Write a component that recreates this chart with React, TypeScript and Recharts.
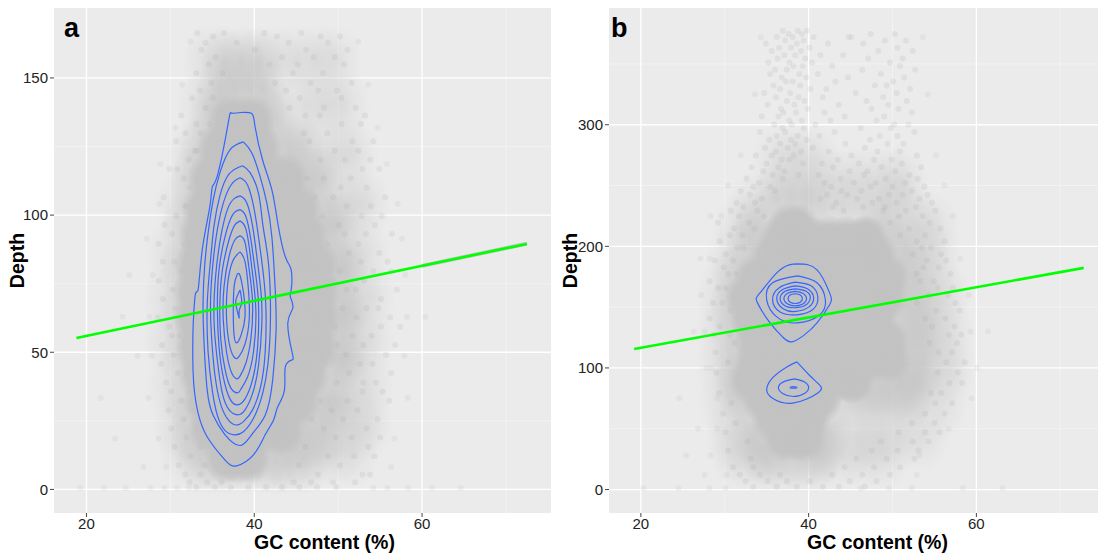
import { CartesianGrid, Label, ScatterChart, Scatter, XAxis, YAxis } from 'recharts'

type Pt = [number, number]
type Row = [number, number[]]

const gcTicks = [20, 40, 60]
const gcMinor = [30, 50, 70]
const depthTicksA = [0, 50, 100, 150]
const depthMinorA = [25, 75, 125]
const depthTicksB = [0, 100, 200, 300]
const depthMinorB = [50, 150, 250, 350]

const trendA: Pt[] = [[18.8, 55.2], [72.5, 89.5]]
const ribbonA: Pt[] = [[60, 81.5], [72.5, 89.6]]
const trendB: Pt[] = [[19.2, 115.6], [72.8, 182.3]]

// rows are [depth, gc values]
const coreRowsA: Row[] = [
  [134, [37, 38.5, 40]],
  [124, [35.6, 37.3, 39, 40.8]],
  [113, [34.5, 36.4, 38.4, 40.4, 42.4, 44]],
  [102, [33.8, 35.8, 37.8, 39.8, 41.8, 43.8, 45.6]],
  [92, [33.4, 35.4, 37.4, 39.4, 41.4, 43.4, 45, 46.4]],
  [82, [33, 35, 37, 39, 41, 43, 45, 46.2, 47.6]],
  [72, [32.8, 34.8, 36.8, 38.8, 40.8, 42.8, 44.8, 46.6, 47.8]],
  [62, [32.8, 34.8, 36.8, 38.8, 40.8, 42.8, 44.8, 46.5, 47.8]],
  [52, [33, 35, 37, 39, 41, 43, 45, 46.2, 47.6]],
  [42, [33.4, 35.4, 37.4, 39.4, 41.4, 43.4, 45.6, 46.6]],
  [32, [34, 36, 38, 40, 42, 44, 45.4]],
  [22, [34.6, 36.6, 38.6, 40.6, 42.6, 43.6]],
  [12, [36.5, 38, 39.5]],
]
const midRowsA: Row[] = [
  [156, [36.5, 38.5, 40.5]],
  [146, [36, 37.6, 39.2, 41]],
  [136, [35, 36.4, 41.2, 42.6]],
  [124, [33.8, 42.6, 44.2, 45.6]],
  [112, [32.6, 45.4, 46.8, 48]],
  [96, [31.8, 47.6, 48.8, 49.8]],
  [80, [31.4, 49, 50, 50.8]],
  [64, [31.4, 49.4, 50.4, 51]],
  [48, [31.6, 49.2, 50.2, 51]],
  [32, [32, 47.4, 48.8, 50]],
  [20, [32.6, 44.8, 46.4, 48.2]],
  [11, [33.6, 35.4, 37, 39, 41, 42.6, 44, 46]],
]
const hazeRowsA: Row[] = [
  [156, [34.6, 42.5, 45, 47.5, 49.6]],
  [140, [34, 46, 48.5, 50.6]],
  [122, [32.8, 47.5, 50, 51.6]],
  [104, [31.4, 49.5, 51.5, 53]],
  [86, [30.4, 51, 53]],
  [70, [30, 52, 53.6]],
  [54, [30, 52, 53.6]],
  [38, [30.4, 51.5, 53.4]],
  [24, [31, 50, 52, 53.4]],
  [14, [31.8, 47.6, 49.6, 51.6]],
]
const speckRowsA: Row[] = [
  [166.4, [33.2, 36.4, 41.2, 45.6]],
  [165.1, [35.1, 42.7, 47.9, 50.2]],
  [162.8, [34.2, 37.9, 44.1, 48.8]],
  [160.3, [33.7, 40.1, 46.2, 51.1]],
  [157.6, [35.4, 43.3, 47.1, 49.6]],
  [154.9, [34.6, 41.8, 45.2, 50.7]],
  [151.7, [33.1, 36.2, 44.6, 48.2]],
  [148.2, [34.9, 42.5, 46.7, 51.6]],
  [145.4, [33.5, 43.8, 47.6, 49.9]],
  [142.7, [32.6, 35.1, 45.4, 50.4]],
  [139.1, [34.2, 44.2, 48.3, 52.1]],
  [136.3, [31.3, 46.1, 53.2, 47.8]],
  [133.2, [33.1, 34.7, 50.4, 52.7]],
  [129.8, [31.8, 33.6, 48.7, 45.9]],
  [126.9, [30.7, 46.6, 51.7, 54.2]],
  [123.5, [32.9, 33.2, 49.6, 52.4]],
  [120.2, [32.2, 47.9, 50.8, 53.8]],
  [116.8, [30.8, 29.9, 54.9, 52.9]],
  [113.4, [31.6, 48.3, 51.5, 46.3]],
  [110.1, [33.4, 32.3, 50.3, 53.4]],
  [106.5, [29.2, 49.4, 55.6, 47.2]],
  [103.2, [31.9, 31.8, 51, 53.9]],
  [99.7, [30.7, 52.8, 48.1, 55.2]],
  [96.4, [32.9, 29.3, 54.4, 50.1]],
  [93.1, [30.2, 50.8, 53.3, 56.4]],
  [89.6, [31.6, 28.6, 52.4, 48.7]],
  [86.2, [32.1, 51.3, 54.9, 47.6]],
  [83, [29.1, 30.5, 55.9, 52.7]],
  [79.5, [31.4, 50.2, 54.2, 56.3]],
  [76.1, [28.6, 32, 53.1, 49.4]],
  [72.8, [30.3, 52.1, 57, 51]],
  [69.4, [31.8, 29.1, 48.9, 55.1]],
  [66, [30.6, 53.4, 54.8, 50.5]],
  [62.7, [28.5, 31.5, 56.2, 52.2]],
  [59.3, [29.9, 49.6, 55.1, 57.4]],
  [56, [31.1, 30.2, 54, 51.7]],
  [52.6, [29, 53, 56.8, 49.9]],
  [49.1, [32, 30.4, 50.9, 55.7]],
  [45.8, [28.9, 52.6, 54.1, 48.4]],
  [42.4, [30.9, 31.9, 56.3, 51.3]],
  [39, [29.5, 49.8, 54.5, 53]],
  [35.7, [32.2, 30.1, 52.9, 55.3]],
  [32.3, [31.3, 47.9, 51.1, 56.1]],
  [28.9, [29.8, 32.6, 52.3, 49.2]],
  [25.6, [31.6, 50.6, 54.7, 46.8]],
  [22.2, [30.1, 33.2, 48.3, 53.4]],
  [18.9, [31.9, 49.7, 55, 51.6]],
  [15.5, [30.5, 33.6, 46.1, 53.6]],
  [12.1, [32.4, 48.8, 51.9, 54.3]],
  [8.8, [31, 34.1, 45.3, 50.2]],
  [5.4, [31.8, 33.6, 47.6, 52.9, 53.8]],
  [2.6, [32.3, 34.4, 36.1, 44.7, 46.8, 49.4, 52]],
  [0.8, [33.1, 35.3, 37.2, 39.3, 41.4, 43.3, 45.4, 47.5, 49.8]],
]
const sparseRowsA: Row[] = [
  [163.2, [32.4, 52.4]],
  [147.5, [31.4, 53.6]],
  [131.8, [30.6, 54.7]],
  [118.6, [28.8, 55.8]],
  [104.1, [28.7, 57.1]],
  [91.4, [27.2, 57.6]],
  [78.2, [25.1, 27.9, 58]],
  [62.9, [24.3, 27.5, 58.2, 60.4]],
  [48.7, [26.1, 27.8, 57.9]],
  [33.3, [21.7, 27.4, 58.3]],
  [18.6, [23.4, 28.6, 56.7]],
  [8.2, [26.8, 29.5, 56.3]],
  [0.5, [19.3, 22.1, 24.7, 27.6, 29.3, 30.8, 32.2, 54.2, 55.9, 58.4, 61.2, 64.6]],
]

const coreRowsB: Row[] = [
  [216, [37.5, 38.8]],
  [206, [36.5, 38.5, 40.5, 42.5, 44.5, 46.5, 47]],
  [192, [35.4, 37.4, 39.4, 41.4, 43.4, 45.4, 47.4, 48.2]],
  [175, [33.6, 35.6, 37.6, 39.6, 41.6, 43.6, 45.6, 47.6, 49.6]],
  [158, [32.4, 34.4, 36.4, 38.4, 40.4, 42.4, 44.4, 46.4, 48.4, 49.4]],
  [140, [33, 35, 37, 39, 41, 43, 45, 47, 48.2]],
  [122, [33.6, 35.6, 37.6, 39.6, 41.6, 43.6, 45.6, 47.6, 49.6]],
  [106, [33.6, 35.6, 37.6, 39.6, 41.6, 43.6, 45.6, 47.6, 49.8]],
  [90, [33, 35, 37, 39, 41, 43, 45, 45.4]],
  [74, [34.4, 36.4, 38.4, 40.4, 41.6]],
  [58, [35.6, 37.6, 39.6, 40.2]],
  [42, [37, 38.5, 39.8]],
]
const midRowsB: Row[] = [
  [240, [36, 38, 40]],
  [215, [34, 48.6]],
  [200, [33, 49.8, 51.5]],
  [175, [31.4, 51, 52.6]],
  [150, [31, 50, 52, 53.4]],
  [125, [31.4, 50.8, 52.6, 53.6]],
  [100, [31.4, 51.8, 53.5]],
  [86, [31.6, 47, 49, 51, 53]],
  [76, [32.2, 44.5, 47, 49.5, 52]],
  [48, [33.4, 42.4]],
  [34, [34.4, 41.8]],
  [26, [35, 37, 39, 41]],
]
const hazeRowsB: Row[] = [
  [270, [36.5, 38.5, 40.5]],
  [252, [42, 44.5, 47, 49.5, 51]],
  [232, [33.6, 41.5, 44, 46.5, 49.5, 51.5]],
  [215, [32, 53, 54.6]],
  [190, [31, 53.5, 55]],
  [160, [29.8, 54.6, 56]],
  [130, [29.8, 55, 56.4]],
  [100, [29.8, 55.6, 56.8]],
  [70, [30.2, 55.6]],
  [45, [31, 46, 48.5, 51, 53.5]],
  [30, [31.5, 32.8, 44, 46.5, 49]],
]
const speckRowsB: Row[] = [
  [377.2, [36.9, 38.7, 39.8]],
  [374.6, [37.6, 39.2, 47.4, 50.3]],
  [372.1, [36.2, 38.1, 40.6, 44.8]],
  [369.3, [37.2, 39.4, 49.1, 51.6]],
  [366.8, [34.9, 38.6, 42.3, 46.5]],
  [363.4, [36.5, 37.9, 40.1, 50.6]],
  [360.7, [35.6, 39.1, 48.3, 52.4]],
  [357.2, [37.1, 38.4, 41.4, 44.1]],
  [354.5, [36.3, 39.6, 47.1, 51.2]],
  [351.1, [35.2, 37.7, 40.4, 49.7]],
  [348.3, [38.2, 39.3, 42.8, 50.9]],
  [345.2, [36, 37.4, 46.4, 52.7]],
  [341.7, [35.4, 38.9, 41.1, 48.6]],
  [338.9, [36.8, 39.7, 44.7, 51.4]],
  [335.6, [37.3, 38.1, 43.2, 50.1]],
  [332.2, [35.8, 39, 47.9, 49.3]],
  [329.4, [36.6, 40.2, 42.1, 52.1]],
  [326.1, [34.7, 37.8, 45.6, 50.5]],
  [322.7, [36.1, 38.8, 41.7, 48.9]],
  [319.6, [37.4, 39.5, 46.9, 51.7]],
  [316.4, [35.1, 38.3, 43.6, 49.5]],
  [313.2, [36.7, 39.9, 47.5, 50.7]],
  [310.1, [37, 38.5, 41.9, 52.3]],
  [306.8, [34.4, 36.4, 44.3, 49]],
  [303.5, [37.7, 39.2, 42.6, 48.1]],
  [300.2, [35.9, 38, 40.8, 50.2, 51.9]],
  [297.3, [36.9, 39.4, 46.2, 49.8]],
  [294, [34.2, 37.2, 43.1, 52.6]],
  [290.8, [36.2, 38.7, 41.3, 48.5, 50.6]],
  [287.6, [35.3, 37.9, 39.8, 47.3]],
  [284.3, [36.6, 38.4, 44.4, 49.4, 51.3]],
  [281.1, [34.8, 37.5, 40.5, 46.7]],
  [278, [36.1, 39.1, 42.4, 48.2, 50.9]],
  [274.7, [33.7, 35.6, 38.2, 45.1, 52.9]],
  [271.3, [36.8, 37.7, 43.5, 47.8, 49.9]],
  [268.2, [35, 39.3, 41.6, 46, 51.1]],
  [265.1, [33.2, 36.4, 42.9, 48.7, 53.4]],
  [261.8, [34.6, 37.1, 44.9, 47, 50.3]],
  [258.6, [35.7, 38.8, 41.2, 46.6, 52]],
  [255.5, [32.6, 36.9, 43.8, 49.2, 53]],
  [252.1, [34.1, 41.9, 45.4, 48, 51.5]],
  [248.9, [33.4, 35.4, 42.7, 47.4, 50, 53.8]],
  [245.6, [31.9, 36, 43.9, 46.3, 52.3]],
  [242.4, [33, 42.2, 44.6, 49.6, 51.2, 54.2]],
  [239.1, [34.4, 41.4, 45.8, 48.4, 53.2]],
  [235.8, [31.4, 33.6, 43.3, 47.6, 50.5, 54.7]],
  [232.4, [32.2, 42.9, 46.5, 49.1, 52.8]],
  [229.2, [30.7, 33.9, 44.2, 48.9, 51.6, 55.1]],
  [224.7, [31.7, 34.7, 50.8, 53.6]],
  [219.3, [29.2, 32.9, 49.7, 54.4]],
  [214.6, [31.1, 33.5, 52, 55.7]],
  [209.1, [30.6, 32.1, 50.9, 53.9]],
  [204.2, [29.4, 52.9, 56.2]],
  [198.8, [32.2, 31.5, 53.5, 54.6]],
  [193.5, [30.1, 52.4, 55.8]],
  [188.3, [28.8, 31, 54.1, 56.4]],
  [182.6, [29.9, 53.7, 55.5]],
  [177.4, [31.4, 30.4, 56.9, 52.9]],
  [171.2, [28.2, 54.9, 53.3]],
  [165.7, [30.1, 29.2, 55.4, 57.2]],
  [159.8, [31.1, 54.3, 56.6]],
  [153.4, [28.6, 29.7, 52.9, 57.5]],
  [147.2, [30.7, 55.2, 58]],
  [140.6, [28.2, 31.5, 56.3, 53.9]],
  [134.1, [29.4, 54.7, 57.4]],
  [127.3, [30.6, 28.7, 56.7, 58.2]],
  [120.5, [31.2, 54.4, 57.7]],
  [112.9, [28.9, 57.1, 55.5]],
  [104.6, [30.4, 56.4, 58.6]],
  [96.2, [29, 55.4, 57.8]],
  [87.7, [31.6, 56.8, 58.3]],
  [79.3, [29.3, 55.8, 54.6]],
  [70.9, [30.8, 55.1, 57.1]],
  [62.4, [29.8, 53.9, 56.2]],
  [54.8, [31.3, 52.3, 55]],
  [47.1, [30.1, 50.7, 53.9, 55.6]],
  [39.6, [32.7, 48.6, 52.4, 54.3]],
  [32.2, [30.4, 47.5, 50.6, 53.1]],
  [25.3, [33.1, 45.7, 49.3, 52.6]],
  [18.4, [31, 33.4, 44.3, 47.8, 50.9]],
  [12.2, [31.8, 34.2, 36.6, 42.8, 46.4, 49.7]],
  [6.8, [32.5, 35.1, 37.4, 40.2, 44.9, 48.1]],
  [2.3, [33.4, 36.2, 38.6, 41.7, 43.6, 46.7]],
]
const sparseRowsB: Row[] = [
  [372, [34.3, 45.1, 53.6]],
  [325, [33.6, 54.2]],
  [275, [31.9, 55.2]],
  [250, [30.4, 56.2]],
  [225, [28.3, 29.6, 57.2]],
  [190, [27.1, 28.2, 58.1]],
  [160, [27.2, 59.1]],
  [130, [26.3, 27.6, 59.3, 61.4]],
  [100, [27.8, 28.4, 60.1]],
  [75, [24.6, 29.1, 59.4]],
  [50, [26.8, 29.1, 56.7]],
  [28, [25.4, 28.3, 53.2]],
  [12, [27.6, 30.2, 52.9]],
  [1, [20.3, 24.5, 28.2, 30.1, 46.2, 49.6, 52.3, 58.4, 63.1]],
]

const contoursA: Pt[][] = [
  [[38.4, 137.4], [39.7, 137], [40.1, 132.2], [41, 120], [42.1, 109.2], [42.8, 97.2], [43.7, 84.8], [44.4, 80], [44.4, 72.7], [44.3, 70.2], [44.6, 66.2], [44, 60.7], [44.5, 50.1], [44.5, 47.2], [43.7, 44.7], [43.6, 36.3], [42.8, 30.1], [42.3, 25.3], [41.3, 19.9], [39.9, 12.6], [37.9, 8.6], [36.5, 10.8], [34.4, 19.1], [33.3, 27.9], [32.7, 43.6], [32.9, 69.1], [33.3, 72.7], [33.8, 87.3], [34.7, 103], [35, 110.3], [35.7, 115.4], [36.9, 133.6], [37.3, 137.2]],
  [[38.7, 126.7], [39.7, 122.7], [40.7, 114], [41.5, 104.4], [42.1, 92], [42.5, 72.7], [42.6, 58], [42.2, 40], [41.3, 27], [39.7, 20], [38.3, 16], [36.5, 20], [35.1, 27], [34.4, 36], [34, 54.5], [33.9, 69], [34.1, 82], [34.5, 93.5], [35.1, 105.5], [35.9, 115.4], [37.1, 123.8]],
  [[38.6, 118], [39.5, 115.5], [40.5, 108], [41, 97], [41.6, 85], [41.9, 72], [41.9, 58], [41.6, 45], [41, 35], [40, 26.5], [38.7, 21], [37.6, 19.9], [36.5, 21.5], [35.6, 27], [35, 36], [34.5, 50], [34.4, 68], [34.8, 84], [35.2, 96], [35.9, 107], [37, 115]],
  [[38.3, 113.6], [39.2, 111], [40, 102], [40.6, 90], [41.1, 78], [41.4, 65], [41.3, 50], [40.8, 38], [39.8, 29], [38.8, 25], [38, 23.5], [37, 25], [36, 31], [35.3, 42], [34.9, 56], [34.8, 70], [35.2, 86], [35.8, 98], [36.6, 107], [37.5, 112]],
  [[38.3, 107], [39.1, 104.5], [39.8, 96], [40.3, 85], [40.8, 72], [40.9, 60], [40.5, 45], [39.8, 35], [38.9, 29], [38, 27.2], [37, 29], [36.2, 35], [35.6, 47], [35.2, 62], [35.4, 78], [36, 92], [36.8, 102], [37.6, 106]],
  [[38.3, 102], [39, 99.5], [39.6, 91], [40.1, 80], [40.5, 68], [40.4, 52], [39.8, 40], [38.9, 33], [38, 30.8], [37.1, 33], [36.3, 41], [35.8, 52], [35.6, 66], [35.8, 80], [36.5, 92], [37.4, 100]],
  [[38.3, 97.9], [39, 95], [39.5, 86], [39.9, 76], [40.2, 64], [39.9, 50], [39.2, 41], [38.4, 36.5], [38, 35.2], [37.2, 37], [36.5, 44], [36, 55], [35.9, 68], [36.2, 80], [36.9, 90], [37.6, 96]],
  [[38.3, 92.4], [38.9, 90], [39.4, 80], [39.8, 68], [39.6, 55], [39, 46], [38.3, 41.3], [37.9, 40.3], [37.3, 42.5], [36.7, 50], [36.3, 62], [36.4, 74], [37, 85], [37.7, 91]],
  [[38.3, 86.6], [38.9, 83], [39.3, 73], [39.4, 62], [38.9, 53], [38.2, 48.5], [37.7, 47.9], [37.1, 52], [36.7, 62], [36.8, 74], [37.4, 83]],
  [[38, 78.6], [38.3, 78], [38.7, 72], [38.9, 63], [38.4, 56], [37.9, 53.4], [37.6, 56], [37.5, 64], [37.6, 74]],
  [[38.3, 72.7], [38.5, 68], [38.2, 65], [38.2, 62.5], [37.9, 66], [37.8, 69]],
]

const contoursB: Pt[][] = [
  [[38.7, 185.6], [41, 180.7], [42.5, 161.7], [42.5, 151.9], [41, 137], [39.5, 127.2], [38, 121.4], [36.9, 125.5], [35.4, 137], [33.9, 153.5], [34.2, 161.7], [36.2, 178.2], [37.7, 184.8]],
  [[38.7, 175.7], [41, 170], [42, 156], [41.3, 143.6], [38.6, 137], [36.2, 142], [35, 156], [35.7, 170]],
  [[38.4, 170.5], [40.3, 167.5], [41.1, 158], [40.5, 148], [38.6, 143.7], [36.6, 146], [35.7, 156], [36.5, 166]],
  [[38.4, 167.5], [39.9, 165], [40.6, 157.5], [40, 150], [38.5, 146.5], [37, 148.5], [36.2, 157], [36.9, 164.5]],
  [[38.4, 165], [39.7, 163], [40.2, 157.5], [39.6, 151.5], [38.4, 149.5], [37.2, 151], [36.6, 157], [37.2, 163]],
  [[38.4, 163], [39.3, 161.5], [39.75, 157], [39.3, 152.5], [38.4, 151], [37.5, 152.5], [37.05, 157], [37.5, 161.5]],
  [[38.4, 161], [39, 160], [39.25, 157], [39, 154], [38.4, 153], [37.8, 154], [37.55, 157], [37.8, 160]],
  [[38.6, 105], [40.1, 94], [41.3, 86], [41.1, 79.4], [38.1, 71], [35.7, 75], [35, 82], [35.7, 91.8], [37.4, 100.8]],
  [[38.3, 91], [39.5, 88.5], [40, 84], [39.5, 79], [38.2, 76.5], [36.9, 79], [36.4, 84], [37, 88.5]],
  [[38.2, 84.6], [38.6, 84], [38.2, 83.3], [37.8, 84]],
]

const flatten = (rows: Row[]) =>
  rows.flatMap(([depth, gcs]) => gcs.map((gc) => ({ gc, depth })))
const toPoints = (pts: Pt[]) => pts.map(([gc, depth]) => ({ gc, depth }))
const closed = (pts: Pt[]) => toPoints([...pts, pts[0]])

const FONT = '"Liberation Sans", Arial, sans-serif'
const TITLE = { fontSize: 19.5, fontWeight: 700, fontFamily: FONT, fill: '#000' }

interface PanelProps {
  id: string
  left: number
  width: number
  yWidth: number
  letter: string
  letterX: number
  gcDomain: [number, number]
  depthDomain: [number, number]
  depthTicks: number[]
  depthMinor: number[]
  core: Row[]
  coreRy: number
  mid: Row[]
  haze: Row[]
  speck: Row[]
  sparse: Row[]
  contours: Pt[][]
  trend: Pt[]
  ribbon?: Pt[]
  titleDx: number
  depthOffset: number
}

function Panel(p: PanelProps) {
  const tick = { fill: '#222', fontSize: 15, fontFamily: FONT }
  const blob = (rx: number, ry: number, fill: string, opacity = 1) => (s: any) => (
    <ellipse cx={s.cx} cy={s.cy} rx={rx} ry={ry} fill={fill} opacity={opacity} />
  )
  return (
    <div style={{ position: 'absolute', left: p.left, top: 0 }}>
      <ScatterChart
        width={p.width}
        height={559}
        margin={{ top: 8, right: 5, bottom: 0, left: 0 }}
      >
        <defs>
          <radialGradient id={`core${p.id}`}>
            <stop offset="0%" stopColor="#c2c2c2" stopOpacity={1} />
            <stop offset="60%" stopColor="#c2c2c2" stopOpacity={0.92} />
            <stop offset="100%" stopColor="#c2c2c2" stopOpacity={0} />
          </radialGradient>
          <radialGradient id={`mid${p.id}`}>
            <stop offset="0%" stopColor="#c4c4c4" stopOpacity={0.6} />
            <stop offset="100%" stopColor="#c4c4c4" stopOpacity={0} />
          </radialGradient>
          <radialGradient id={`haze${p.id}`}>
            <stop offset="0%" stopColor="#c8c8c8" stopOpacity={0.36} />
            <stop offset="100%" stopColor="#c8c8c8" stopOpacity={0} />
          </radialGradient>
        </defs>
        <CartesianGrid
          fill="#ebebeb"
          stroke="#f4f4f4"
          strokeWidth={0.8}
          horizontalValues={p.depthMinor}
          verticalValues={gcMinor}
        />
        <CartesianGrid
          stroke="#ffffff"
          strokeWidth={1.3}
          horizontalValues={p.depthTicks}
          verticalValues={gcTicks}
        />
        <XAxis
          type="number"
          dataKey="gc"
          domain={p.gcDomain}
          ticks={gcTicks}
          allowDataOverflow
          height={46}
          axisLine={false}
          tickSize={4}
          tickMargin={1}
          tick={tick}
          tickLine={{ stroke: '#444' }}
        >
          <Label
            value="GC content (%)"
            position="insideBottom"
            offset={10}
            dx={p.titleDx}
            style={TITLE}
          />
        </XAxis>
        <YAxis
          type="number"
          dataKey="depth"
          domain={p.depthDomain}
          ticks={p.depthTicks}
          allowDataOverflow
          width={p.yWidth}
          axisLine={false}
          tickSize={4}
          tickMargin={2}
          tick={tick}
          tickLine={{ stroke: '#444' }}
        >
          <Label
            value="Depth"
            angle={-90}
            position="insideLeft"
            offset={p.depthOffset}
            style={{ ...TITLE, textAnchor: 'middle' }}
          />
        </YAxis>
        <Scatter
          data={flatten(p.sparse)}
          shape={blob(3, 3, '#a8a8a8', 0.13)}
          isAnimationActive={false}
        />
        <Scatter
          data={flatten(p.haze)}
          shape={blob(28, 38, `url(#haze${p.id})`)}
          isAnimationActive={false}
        />
        <Scatter
          data={flatten(p.mid)}
          shape={blob(24, 36, `url(#mid${p.id})`)}
          isAnimationActive={false}
        />
        <Scatter
          data={flatten(p.speck)}
          shape={blob(3, 3, '#a4a4a4', 0.17)}
          isAnimationActive={false}
        />
        <Scatter
          data={flatten(p.core)}
          shape={blob(21, p.coreRy, `url(#core${p.id})`)}
          isAnimationActive={false}
        />
        {p.contours.map((c, i) => (
          <Scatter
            key={i}
            data={closed(c)}
            line={{ stroke: '#3366ff', strokeWidth: 1.2 }}
            lineJointType="natural"
            shape={() => null}
            isAnimationActive={false}
          />
        ))}
        {p.ribbon && (
          <Scatter
            data={toPoints(p.ribbon)}
            line={{ stroke: '#c4c4c4', strokeWidth: 4 }}
            shape={() => null}
            isAnimationActive={false}
          />
        )}
        <Scatter
          data={toPoints(p.trend)}
          line={{ stroke: '#00ff00', strokeWidth: 2.6 }}
          shape={() => null}
          isAnimationActive={false}
        />
      </ScatterChart>
      <div
        style={{
          position: 'absolute',
          left: p.letterX,
          top: 11,
          fontFamily: FONT,
          fontWeight: 700,
          fontSize: 27,
          lineHeight: '34px',
          color: '#000',
        }}
      >
        {p.letter}
      </div>
    </div>
  )
}

export default function App() {
  return (
    <div style={{ position: 'absolute', left: 0, top: 0, width: 1103, height: 559, background: '#fff' }}>
      <Panel
        id="A"
        left={0}
        width={556}
        yWidth={54}
        letter="a"
        letterX={64}
        gcDomain={[16.13, 75.37]}
        depthDomain={[-8.6, 175.5]}
        depthTicks={depthTicksA}
        depthMinor={depthMinorA}
        core={coreRowsA}
        coreRy={28}
        mid={midRowsA}
        haze={hazeRowsA}
        speck={speckRowsA}
        sparse={sparseRowsA}
        contours={contoursA}
        trend={trendA}
        ribbon={ribbonA}
        titleDx={22}
        depthOffset={17}
      />
      <Panel
        id="B"
        left={556}
        width={547}
        yWidth={53}
        letter="b"
        letterX={55}
        gcDomain={[16.2, 74.5]}
        depthDomain={[-19.3, 396]}
        depthTicks={depthTicksB}
        depthMinor={depthMinorB}
        core={coreRowsB}
        coreRy={24}
        mid={midRowsB}
        haze={hazeRowsB}
        speck={speckRowsB}
        sparse={sparseRowsB}
        contours={contoursB}
        trend={trendB}
        titleDx={24}
        depthOffset={14}
      />
    </div>
  )
}
